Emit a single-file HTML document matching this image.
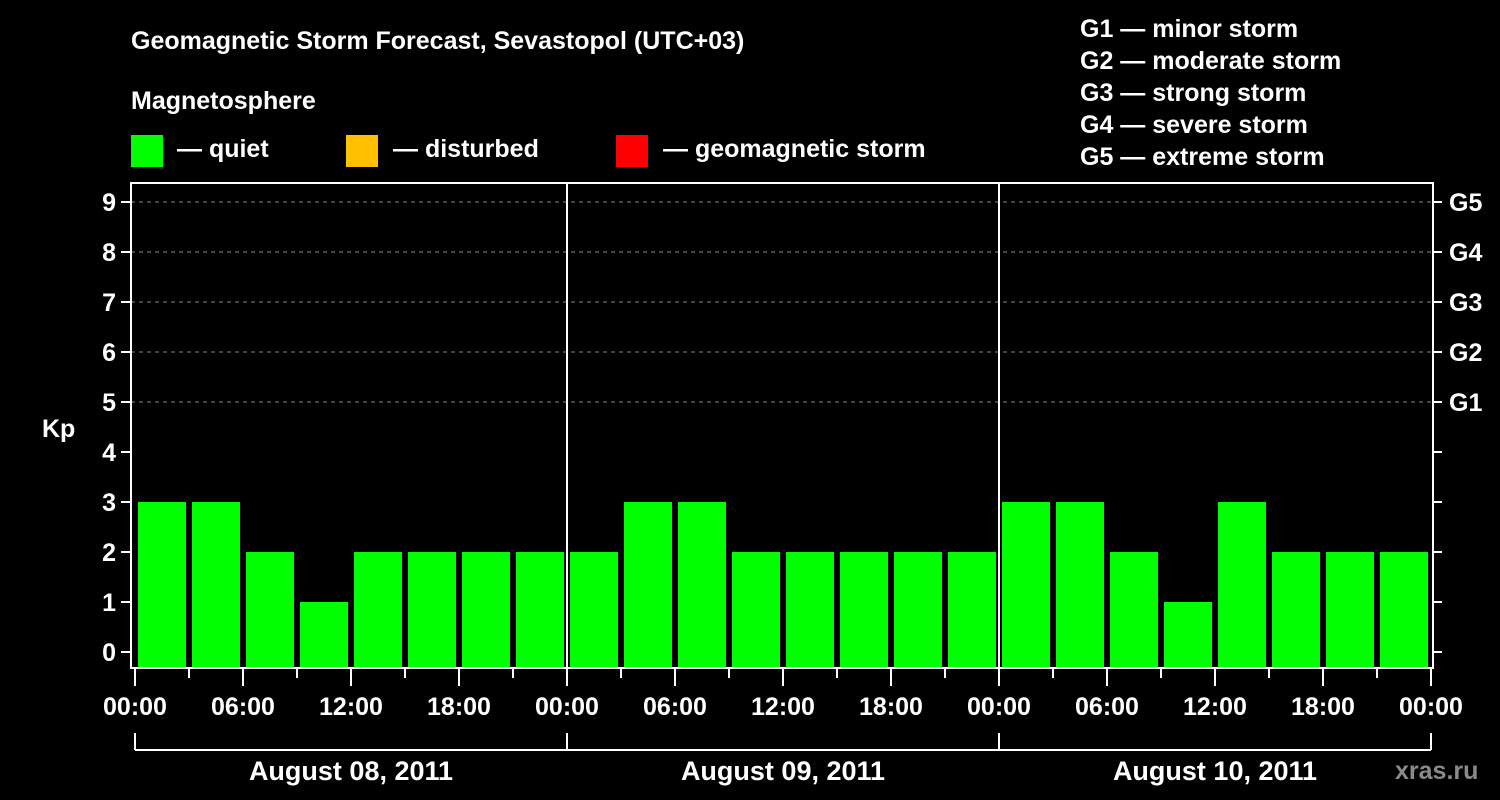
<!DOCTYPE html>
<html><head><meta charset="utf-8"><style>
html,body{margin:0;padding:0;background:#000;width:1500px;height:800px;overflow:hidden}
svg text{font-family:"Liberation Sans",Arial,sans-serif;font-weight:bold;fill:#fff}
</style></head><body>
<svg id="c" width="1500" height="800" xmlns="http://www.w3.org/2000/svg">
<text x="131" y="49" font-size="25">Geomagnetic Storm Forecast, Sevastopol (UTC+03)</text>
<text x="131" y="109" font-size="25">Magnetosphere</text>
<g>
<rect x="131" y="135" width="32" height="32" fill="#00ff00"/>
<text x="177" y="157" font-size="25">— quiet</text>
<rect x="346" y="135" width="32" height="32" fill="#ffc000"/>
<text x="393" y="157" font-size="25">— disturbed</text>
<rect x="616" y="135" width="32" height="32" fill="#ff0000"/>
<text x="663" y="157" font-size="25">— geomagnetic storm</text>
</g>
<g font-size="25">
<text x="1080" y="37">G1 — minor storm</text>
<text x="1080" y="69">G2 — moderate storm</text>
<text x="1080" y="101">G3 — strong storm</text>
<text x="1080" y="133">G4 — severe storm</text>
<text x="1080" y="165">G5 — extreme storm</text>
</g>
<g id="plot"></g>
<text x="1395" y="779" font-size="25" fill="#888" style="fill:#8a8a8a">xras.ru</text>
</svg>
<script>
const kpValues=[3,3,2,1,2,2,2,2, 2,3,3,2,2,2,2,2, 3,3,2,1,3,2,2,2];
const dayLabels=["August 08, 2011","August 09, 2011","August 10, 2011"];
const timeLabels=["00:00","06:00","12:00","18:00"];
const yTicks=[0,1,2,3,4,5,6,7,8,9];
const gLabels=["G1","G2","G3","G4","G5"];
const gLevels=[5,6,7,8,9];
const NS="http://www.w3.org/2000/svg";
const g=document.getElementById('plot');
const X0=135,HOUR=18,L=131,R=1433,T=183,B=668;
const xs=h=>X0+h*HOUR;
const ys=v=>652-v*50;
function mk(t,a){const e=document.createElementNS(NS,t);for(const k in a)e.setAttribute(k,a[k]);g.appendChild(e);return e;}
// grid
gLevels.forEach(v=>{const e=mk('line',{x1:L,x2:R,y1:ys(v),y2:ys(v),stroke:'#888','stroke-dasharray':'4,4','stroke-width':1});

});
// bars
kpValues.forEach((v,i)=>{const x=xs(i*3);const e=mk('rect',{x:x+3,y:ys(v),width:48,height:B-1-ys(v),fill:v>=5?'#ff0000':(v>=4?'#ffc000':'#00ff00')});

});
// day separators
for(let d=1;d<dayLabels.length;d++){const e=mk('line',{x1:xs(d*24),x2:xs(d*24),y1:T,y2:B,stroke:'#fff','stroke-width':2});

}
// frame
const fr=mk('rect',{x:L,y:T,width:R-L,height:B-T,fill:'none',stroke:'#fff','stroke-width':2});


// y ticks
yTicks.forEach(v=>{mk('line',{x1:121,x2:L,y1:ys(v),y2:ys(v),stroke:'#fff','stroke-width':2});
mk('line',{x1:R,x2:R+9,y1:ys(v),y2:ys(v),stroke:'#fff','stroke-width':2});
const t=mk('text',{x:116,y:ys(v)+9,'font-size':25,'text-anchor':'end'});t.textContent=v;

});
gLabels.forEach((s,i)=>{const t=mk('text',{x:1449,y:ys(gLevels[i])+9,'font-size':25});t.textContent=s;

});
const kp=mk('text',{x:42,y:437,'font-size':25});kp.textContent='Kp';


// x ticks
for(let h=0;h<=72;h+=3){const major=h%6===0;mk('line',{x1:xs(h),x2:xs(h),y1:B,y2:major?686:678,stroke:'#fff','stroke-width':2});}
for(let h=0;h<=72;h+=6){const t=mk('text',{x:xs(h),y:715,'font-size':25,'text-anchor':'middle'});t.textContent=timeLabels[(h/6)%4];

}
// day brackets
mk('line',{x1:xs(0),x2:xs(72),y1:750,y2:750,stroke:'#fff','stroke-width':2});
for(let d=0;d<=dayLabels.length;d++)mk('line',{x1:xs(d*24),x2:xs(d*24),y1:733,y2:750,stroke:'#fff','stroke-width':2});
dayLabels.forEach((s,d)=>{const t=mk('text',{x:xs(d*24+12),y:780,'font-size':27,'text-anchor':'middle'});t.textContent=s;

});
</script>
</body></html>
